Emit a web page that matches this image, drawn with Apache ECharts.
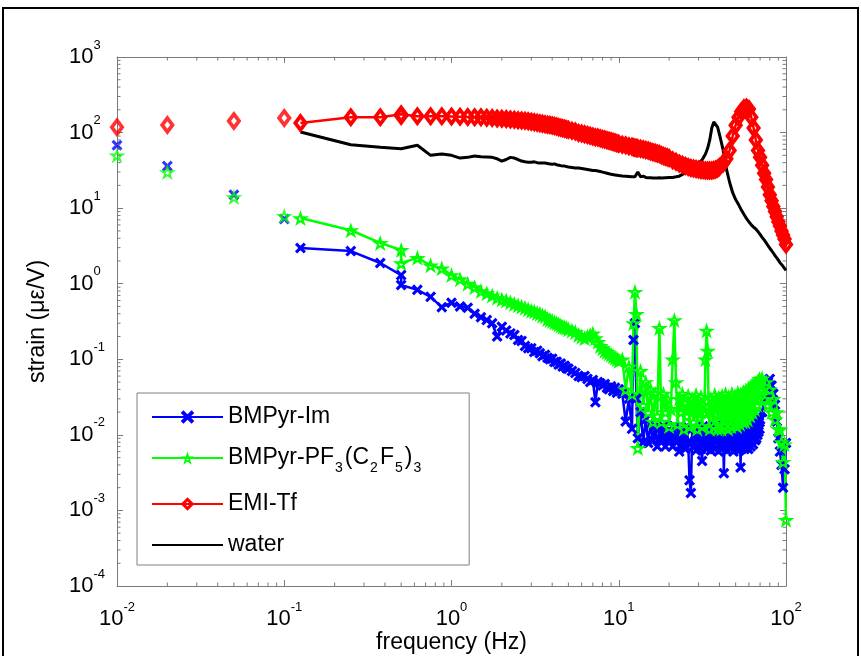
<!DOCTYPE html>
<html><head><meta charset="utf-8">
<script src="https://cdn.jsdelivr.net/npm/echarts@6/dist/echarts.min.js"></script>
<style>html,body{margin:0;padding:0;background:#fff;}#c{width:861px;height:656px;}</style>
</head><body><div id="c"></div>
<script>
// ---------------- data ----------------
const NAMES = ['BMPyr-Im', 'BMPyr-PF3(C2F5)3', 'EMI-Tf', 'water'];

// isolated low-frequency points (not joined by a line)
const EARLY_FREQ = [0.01, 0.02, 0.05, 0.1];
const EARLY_IM   = [68, 36, 15, 7.2];
const EARLY_PF   = [50, 30, 14, 7.9];
const EARLY_TF   = [118, 126, 142, 156];

// swept measurement (Hz), common part 0.125 .. 20 Hz
const FREQ_LOW = [
  0.125,0.25,0.375,0.5,0.5,0.625,0.75,0.875,1,1.125,1.25,1.375,1.5,1.625,1.75,1.875,2,
  2.125,2.25,2.375,2.5,2.625,2.75,2.875,3,3.125,3.25,3.375,3.5,3.625,3.75,3.875,4,4.125,4.25,4.375,4.5,4.625,4.75,4.875,5,
  5.25,5.5,5.75,6,6.25,6.5,6.75,7,7.25,7.5,7.75,8,8.25,8.5,8.75,9,9.25,9.5,9.75,10,
  10.5,11,11.5,12,12.25,12.5,12.75,13,13.5,14,14.5,15,15.5,16,16.5,17,17.5,18,18.5,19,19.5,20
];
// above 20 Hz: smooth curves (EMI-Tf, water)
const FREQ_HI_SMOOTH = [
  21,22,23,24,25,26,27,28,29,30,31,32,33,34,35,36,37,38,39,40,
  42,44,46,48,50,52,54,56,58,60,62,64,66,68,70,72,74,76,78,80,82,84,86,88,90,92,94,96,98,100
];
// above 20 Hz: noisy curves (BMPyr-Im, BMPyr-PF3(C2F5)3)
const FREQ_HI_NOISY = [
  20.5,21,21.5,22,22.5,23,23.5,24,24.5,25, 25.5,26,26.5,27,27.5,28,28.5,29,29.5,30,
  30.5,31,31.5,32,32.5,33,33.5,34,34.5,35, 35.5,36,36.5,37,37.5,38,38.5,39,39.5,40,
  40.5,41,41.5,42,42.5,43,43.5,44,44.5,45, 45.5,46,46.5,47,47.5,48,48.5,49,49.5,50,
  50.5,51,51.5,52,52.5,53,53.5,54,54.5,55, 55.5,56,56.5,57,57.5,58,58.5,59,59.5,60,
  60.5,61,61.5,62,62.5,63,63.5,64,64.5,65, 65.5,66,66.5,67,67.5,68,68.5,69,69.5,70,
  72,74,76,78,80,82,84,86,88,90,92,94,96,98,100
];

const IM_LOW = [
  2.97,2.7,1.88,1.3,0.96,0.83,0.67,0.49,0.56,0.5,0.48,0.4,0.36,0.33,0.3,0.2,0.27,
  0.24,0.22,0.21,0.18,0.175,0.15,0.14,0.14,0.125,0.13,0.12,0.11,0.115,0.105,0.1,0.102,0.092,0.093,0.085,0.088,0.08,0.082,0.076,0.075,
  0.07,0.066,0.06,0.058,0.06,0.055,0.05,0.053,0.027,0.05,0.048,0.045,0.047,0.042,0.04,0.044,0.038,0.042,0.036,0.04,
  0.035,0.015,0.03,0.012,0.18,0.3,0.03,0.009,0.02,0.008,0.016,0.0078,0.014,0.0085,0.013,0.007,0.012,0.0085,0.013,0.007,0.011,0.008
];
const IM_HI = [
  0.011,0.007,0.013,0.008,0.01,0.006,0.012,0.0075,0.011,0.0065, 0.013,0.008,0.0025,0.0017,0.012,0.007,0.01,0.0062,0.012,0.0075,
  0.011,0.0065,0.0045,0.013,0.008,0.011,0.0065,0.012,0.007,0.01, 0.0062,0.012,0.0075,0.011,0.0065,0.013,0.008,0.01,0.006,0.012,
  0.0075,0.011,0.0065,0.013,0.0031,0.012,0.007,0.01,0.0062,0.012, 0.008,0.011,0.0065,0.013,0.0075,0.01,0.006,0.012,0.007,0.011,
  0.0065,0.013,0.008,0.01,0.0062,0.012,0.0037,0.011,0.007,0.012, 0.0075,0.011,0.0065,0.013,0.008,0.012,0.007,0.011,0.0065,0.013,
  0.008,0.012,0.007,0.013,0.0085,0.012,0.0075,0.013,0.009,0.014, 0.0085,0.013,0.009,0.014,0.01,0.015,0.011,0.0146,0.012,0.016,
  0.02,0.03,0.045,0.05,0.055,0.045,0.035,0.025,0.015,0.009,0.006,0.004,0.002,0.0035,0.0078
];
const PF_LOW = [
  7.4,5.1,3.46,2.8,1.87,2.2,1.75,1.6,1.3,1.15,1.0,0.9,0.8,0.75,0.7,0.65,0.62,
  0.6,0.57,0.54,0.52,0.5,0.48,0.46,0.44,0.43,0.41,0.4,0.38,0.37,0.34,0.33,0.32,0.31,0.3,0.29,0.28,0.27,0.265,0.26,0.25,
  0.24,0.23,0.21,0.2,0.19,0.2,0.21,0.22,0.19,0.17,0.15,0.14,0.13,0.125,0.12,0.115,0.11,0.105,0.1,0.095,
  0.1,0.04,0.08,0.035,0.3,0.78,0.4,0.0067,0.07,0.025,0.05,0.02,0.04,0.015,0.035,0.018,0.26,0.015,0.035,0.02,0.03,0.013
];
const PF_HI = [
  0.022,0.1,0.33,0.05,0.014,0.03,0.02,0.035,0.012,0.026, 0.018,0.033,0.013,0.024,0.03,0.015,0.021,0.034,0.012,0.027,
  0.017,0.032,0.013,0.025,0.02,0.1,0.24,0.13,0.02,0.012, 0.03,0.017,0.025,0.013,0.034,0.019,0.027,0.012,0.031,0.016,
  0.025,0.012,0.033,0.02,0.028,0.013,0.035,0.018,0.024,0.012, 0.032,0.016,0.027,0.013,0.035,0.02,0.03,0.014,0.033,0.019,
  0.026,0.013,0.036,0.018,0.03,0.014,0.034,0.021,0.028,0.015, 0.037,0.02,0.031,0.015,0.038,0.022,0.033,0.016,0.04,0.024,
  0.035,0.018,0.042,0.026,0.038,0.02,0.045,0.03,0.04,0.022, 0.048,0.032,0.045,0.025,0.05,0.035,0.052,0.03,0.055,0.04,
  0.056,0.03,0.05,0.025,0.04,0.02,0.03,0.016,0.02,0.012,0.0117,0.008,0.0044,0.0075,0.00075
];
const TF_LOW = [
  134,160,160,175,166,165,165,164,163,162,161,160,159,157,156,154,152,
  151,149,148,146,144,143,141,139,137,135,133,131,129,127,126,124,122,120,118,116,114,112,111,109,
  106,103,99,97,95,93,91,89,87,86,84,82,81,79,78,77,75,74,72,71,
  69,68,66,65,64,63,62.5,62,61,60,59,58,56,55,54,53,52,50,49,48,47,46
];
const TF_HI = [
  43,41,39,37.5,36,35,34,33.5,33,32.5,32,32,31.5,31.5,31.5,31.5,32,32.5,33.5,35,
  39,45,58,90,125,160,190,210,215,205,160,115,80,58,47,37,29,24,19,15,12.5,10.5,9,7.7,6.6,5.8,5,4.4,3.9,3.3
];
const WATER_LOW = [
  102,69,64,61,61,68,50,52,50,46,47,49,48,47.5,47,45,42,
  44,47,46,44,42,41,40.5,40.5,41,40,39.5,39.5,39.5,39,38.5,38,38.5,37.5,37,36.5,36.3,36,35.5,35,
  34.5,34,34,33.5,33,32.5,32,31.5,31.5,31,30.5,30,29.5,29,28.5,28,28,27.5,27,27,
  26.6,26.5,26.3,26,26,26,27,30,26,26.5,25.5,25.3,25.2,25,25,25,25.2,25,25,25.3,25.5,25.5
];
const WATER_HI = [
  25.5,26,26.5,28,29.5,31,33,35,36,39,42,46,52,62,80,115,138,130,118,95,
  60,33,22,16,13,11.2,9.5,8.3,7.3,6.6,6.0,5.6,5.3,4.9,4.5,4.1,3.8,3.5,3.2,2.95,2.75,2.55,2.35,2.2,2.05,1.9,1.8,1.7,1.6,1.5
];

// axes
const X_TICK_EXP = [-2, -1, 0, 1, 2];
const Y_TICK_EXP = [-4, -3, -2, -1, 0, 1, 2, 3];

// ---------------- chart ----------------
const X_MIN = Math.pow(10, X_TICK_EXP[0]), X_MAX = Math.pow(10, X_TICK_EXP[X_TICK_EXP.length - 1]);
const Y_MIN = Math.pow(10, Y_TICK_EXP[0]), Y_MAX = Math.pow(10, Y_TICK_EXP[Y_TICK_EXP.length - 1]);
const MINOR = exps => { const out = []; for (let i = 0; i < exps.length - 1; i++) for (let m = 2; m <= 9; m++) out.push(m * Math.pow(10, exps[i])); return out; };
const MINOR_X = MINOR(X_TICK_EXP), MINOR_Y = MINOR(Y_TICK_EXP);

const FONT = "'Liberation Sans', Arial, Helvetica, sans-serif";
const AX = '#7a7a7a';
const BLUE = '#0000ff', GREEN = '#00ff00', RED = '#ff0000';
// marker outlines drawn as filled rings so the stroke stays bold
const SYM_X = 'path://M20,0L50,30L80,0L100,20L70,50L100,80L80,100L50,70L20,100L0,80L30,50L0,20Z';
const SYM_STAR = 'path://M50,0L61.23,34.55L97.55,34.55L68.17,55.9L79.39,90.45L50,69.1L20.61,90.45L31.83,55.9L2.45,34.55L38.77,34.55Z' +
  'M56.18,41.5L43.82,41.5L40.01,53.25L50,60.5L59.99,53.25Z';
const SYM_DIA = 'path://M50,0L100,65L50,130L0,65ZM50,40.3L31,65L50,89.7L69,65Z';

const pair = (xs, ys) => xs.map((x, i) => [x, ys[i]]);
const expLabel = v => '{b|10}{e|' + Math.round(Math.log10(v)) + '}';
const labelRich = {
  b: { fontSize: 22, lineHeight: 24, color: '#000', fontFamily: FONT },
  e: { fontSize: 13, lineHeight: 13, padding: [0, 0, 24, 0], color: '#000', fontFamily: FONT }
};

function xAx(pos, main) {
  return {
    type: 'log', logBase: 10, min: X_MIN, max: X_MAX, position: pos,
    axisLine: { show: true, onZero: false, lineStyle: { color: AX, width: 1 } },
    axisTick: { show: true, inside: true, length: 6, lineStyle: { color: AX, width: 1 } },
    splitLine: { show: false },
    axisLabel: main ? { show: true, formatter: expLabel, rich: labelRich, margin: 21, color: '#000' } : { show: false },
    name: main ? 'frequency (Hz)' : '', nameLocation: 'middle', nameGap: 45, nameMoveOverlap: false,
    nameTextStyle: { fontSize: 23, color: '#000', fontFamily: FONT }
  };
}
function yAx(pos, main) {
  return {
    type: 'log', logBase: 10, min: Y_MIN, max: Y_MAX, position: pos,
    axisLine: { show: true, onZero: false, lineStyle: { color: AX, width: 1 } },
    axisTick: { show: true, inside: true, length: 6, lineStyle: { color: AX, width: 1 } },
    splitLine: { show: false },
    axisLabel: main ? { show: true, formatter: expLabel, rich: labelRich, margin: 48, align: 'left', color: '#000' } : { show: false },
    name: main ? 'strain (\u03BC\u03B5/V)' : '', nameLocation: 'middle', nameGap: 68, nameRotate: 90, nameMoveOverlap: false,
    nameTextStyle: { fontSize: 23, color: '#000', fontFamily: FONT }
  };
}
function tickLine(x1, y1, x2, y2) {
  return { type: 'line', shape: { x1, y1, x2, y2 }, style: { stroke: AX, lineWidth: 1 } };
}
function markerSeries(name, data, sym, size, color) {
  return { type: 'scatter', name, data, symbol: sym, symbolSize: size, itemStyle: { color } };
}
function lineSeries(name, data, sym, size, color) {
  return { type: 'line', name, data, symbol: sym, symbolSize: size, showSymbol: true,
    lineStyle: { color, width: 2.5 }, itemStyle: { color } };
}

const F_SMOOTH = FREQ_LOW.concat(FREQ_HI_SMOOTH);
const F_NOISY = FREQ_LOW.concat(FREQ_HI_NOISY);

const chart = echarts.init(document.getElementById('c'), null, { renderer: 'canvas' });
chart.setOption({
  animation: false,
  backgroundColor: '#fff',
  textStyle: { fontFamily: FONT },
  grid: { left: 117, top: 57, width: 669, height: 529, outerBoundsMode: 'none', containLabel: false },
  xAxis: [xAx('bottom', true), xAx('top', false)],
  yAxis: [yAx('left', true), yAx('right', false)],
  legend: {
    orient: 'vertical', left: 137, top: 393,
    padding: [12, 46, 8, 14], itemGap: 17, itemWidth: 71, itemHeight: 17,
    backgroundColor: '#fff', borderColor: '#808080', borderWidth: 1,
    selectedMode: false,
    data: [NAMES[0], NAMES[1], NAMES[2], { name: NAMES[3], itemStyle: { color: 'rgba(0,0,0,0)', opacity: 0 } }],
    formatter: n => n === NAMES[1] ? 'BMPyr-PF{s|3}(C{s|2}F{s|5}){s|3}' : n,
    textStyle: { fontSize: 23, color: '#000', fontFamily: FONT, lineHeight: 24,
      rich: { s: { fontSize: 14, padding: [20, 2, 0, 1], color: '#000', fontFamily: FONT } } }
  },
  graphic: [{ type: 'rect', silent: true, shape: { x: 3, y: 8, width: 855, height: 660 },
    style: { fill: 'none', stroke: '#000', lineWidth: 2 } }],
  series: [
    markerSeries('_im0', pair(EARLY_FREQ, EARLY_IM), SYM_X, 11, BLUE),
    lineSeries(NAMES[0], pair(F_NOISY, IM_LOW.concat(IM_HI)), SYM_X, 11, BLUE),
    markerSeries('_pf0', pair(EARLY_FREQ, EARLY_PF), SYM_STAR, [17, 16], GREEN),
    lineSeries(NAMES[1], pair(F_NOISY, PF_LOW.concat(PF_HI)), SYM_STAR, [17, 16], GREEN),
    markerSeries('_tf0', pair(EARLY_FREQ, EARLY_TF), SYM_DIA, [15, 20], RED),
    lineSeries(NAMES[2], pair(F_SMOOTH, TF_LOW.concat(TF_HI)), SYM_DIA, [15, 20], RED),
    { type: 'line', name: NAMES[3], data: pair(F_SMOOTH, WATER_LOW.concat(WATER_HI)), symbol: 'none', showSymbol: false,
      lineStyle: { color: '#000', width: 3 }, itemStyle: { color: '#000' } },
    { type: 'custom', name: '_mx', silent: true, clip: false, z: 3, data: MINOR_X.map(v => [v, 1]),
      renderItem: (p, api) => { const v = api.value(0); const b = api.coord([v, Y_MIN]); const t = api.coord([v, Y_MAX]);
        return { type: 'group', children: [tickLine(b[0], b[1], b[0], b[1] - 3.5), tickLine(t[0], t[1], t[0], t[1] + 3.5)] }; } },
    { type: 'custom', name: '_my', silent: true, clip: false, z: 3, data: MINOR_Y.map(v => [1, v]),
      renderItem: (p, api) => { const v = api.value(1); const l = api.coord([X_MIN, v]); const r = api.coord([X_MAX, v]);
        return { type: 'group', children: [tickLine(l[0], l[1], l[0] + 3.5, l[1]), tickLine(r[0], r[1], r[0] - 3.5, r[1])] }; } }
  ]
});
</script>
</body></html>
